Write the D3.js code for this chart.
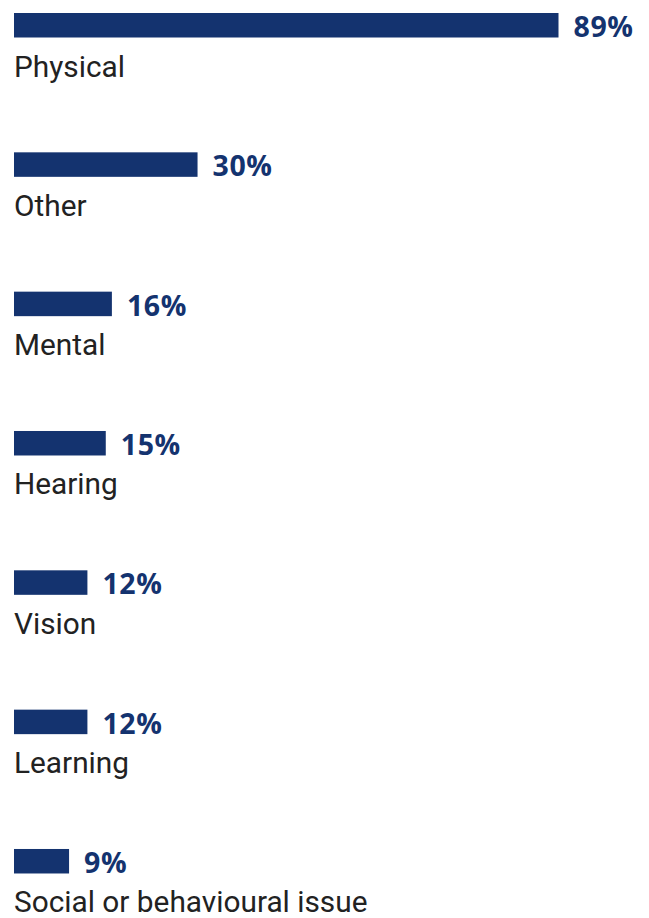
<!DOCTYPE html>
<html><head><meta charset="utf-8">
<script src="https://cdn.jsdelivr.net/npm/d3@7"></script>
<style>body{margin:0;background:#fff}</style>
</head><body>
<svg id="chart" width="649" height="918"></svg>
<script>
const categories = ["Physical","Other","Mental","Hearing","Vision","Learning","Social or behavioural issue"];
const values = [89,30,16,15,12,12,9];
const valueLabels = ["89%","30%","16%","15%","12%","12%","9%"];

const svg = d3.select("#chart");
const x = d3.scaleLinear().domain([0,89]).range([14,558.5]);
const y = d3.scaleBand().domain(categories).range([13, 13+139.33*7]).paddingInner(0).paddingOuter(0);
const barH = 24.5;
const color = "#14336f";

const g = svg.selectAll("g.row").data(categories).join("g").attr("class","row")
  .attr("transform", d => `translate(0,${y(d)})`);

g.append("rect").attr("x", x(0)).attr("y",0)
  .attr("width",(d,i)=>x(values[i])-x(0)).attr("height",barH).attr("fill",color);

g.append("text").attr("x",(d,i)=>x(values[i])+15).attr("y",barH-0.5)
  .attr("font-family","Open Sans").attr("font-weight","bold").attr("font-size",28.5)
  .attr("letter-spacing","0.6px")
  .attr("fill",color).text((d,i)=>valueLabels[i]);

g.append("text").attr("x",14).attr("y",63.5)
  .attr("font-family","Roboto").attr("font-size",29.8)
  .attr("fill","#222").text(d=>d);
</script>
</body></html>
